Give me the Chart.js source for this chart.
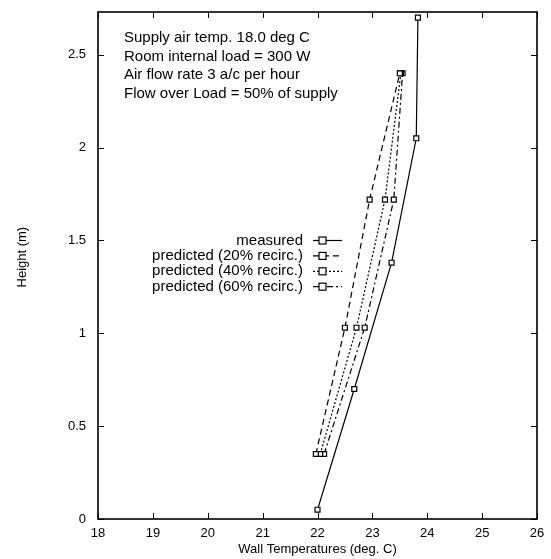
<!DOCTYPE html>
<html>
<head>
<meta charset="utf-8">
<script src="https://cdn.jsdelivr.net/npm/chart.js@4.4.0/dist/chart.umd.min.js"></script>
<style>
  html, body { margin: 0; padding: 0; background: #fff; }
  #wrap { width: 551px; height: 559px; }
</style>
</head>
<body>
<div id="wrap"><canvas id="chart" width="551" height="559"></canvas></div>
<script>
// values: [wall temperature, height]
const measured = [[22.0, 0.05], [22.67, 0.70], [23.35, 1.38], [23.8, 2.05], [23.83, 2.70]]
const recirc20 = [[21.97, 0.35], [22.5, 1.03], [22.95, 1.72], [23.5, 2.40]]
const recirc40 = [[22.05, 0.35], [22.71, 1.03], [23.23, 1.72], [23.52, 2.40]]
const recirc60 = [[22.12, 0.35], [22.86, 1.03], [23.39, 1.72], [23.55, 2.40]]

const seriesNames = ["measured", "predicted (20% recirc.)", "predicted (40% recirc.)", "predicted (60% recirc.)"]
const seriesDash = [[], [6, 4], [2, 2], [6, 3, 2, 3]]
const noteLines = [
    "Supply air temp. 18.0 deg C",
    "Room internal load = 300 W",
    "Air flow rate 3 a/c per hour",
    "Flow over Load = 50% of supply",
]
const xTicks = [18, 19, 20, 21, 22, 23, 24, 25, 26]
const yTicks = [0, 0.5, 1, 1.5, 2, 2.5]
const yTitle = "Height (m)"

const FONT = "'Liberation Sans', Arial, sans-serif"

function toPoints(arr){
    return arr.map(([x, y]) => ({x, y}))
}

const allSeries = [measured, recirc20, recirc40, recirc60]
const datasets = allSeries.map((s, i) => ({
    label: seriesNames[i],
    data: toPoints(s),
    borderColor: "#000",
    borderWidth: 1.2,
    borderDash: seriesDash[i],
    pointStyle: "rect",
    pointRadius: 3.5,
    pointBorderWidth: 1.2,
    pointBorderColor: "#000",
    pointBackgroundColor: "#fff",
    showLine: true,
    fill: false,
    tension: 0,
}))

// frame, inward ticks on all 4 sides, y title, the note and the key
const framePlugin = {
    id: "frame",
    afterDraw(chart){
        const ctx = chart.ctx
        const {left, right, top, bottom} = chart.chartArea
        const xs = chart.scales.x, ys = chart.scales.y
        const tl = 6
        ctx.save()
        ctx.strokeStyle = "#000"
        ctx.lineWidth = 1.6
        ctx.setLineDash([])
        ctx.strokeRect(left, top, right - left, bottom - top)
        ctx.lineWidth = 1
        ctx.beginPath()
        xTicks.forEach(v => {
            const px = Math.round(xs.getPixelForValue(v)) + 0.5
            ctx.moveTo(px, bottom); ctx.lineTo(px, bottom - tl)
            ctx.moveTo(px, top); ctx.lineTo(px, top + tl)
        })
        yTicks.forEach(v => {
            const py = Math.round(ys.getPixelForValue(v)) + 0.5
            ctx.moveTo(left, py); ctx.lineTo(left + tl, py)
            ctx.moveTo(right, py); ctx.lineTo(right - tl, py)
        })
        ctx.stroke()

        ctx.fillStyle = "#000"
        ctx.textBaseline = "middle"

        // y axis title sits a bit above the middle in the original
        ctx.save()
        ctx.font = "13px " + FONT
        ctx.textAlign = "center"
        ctx.translate(22, ys.getPixelForValue(1.41))
        ctx.rotate(-Math.PI / 2)
        ctx.fillText(yTitle, 0, 0)
        ctx.restore()

        // note in the upper left
        ctx.font = "15px " + FONT
        ctx.textAlign = "left"
        noteLines.forEach((t, i) => ctx.fillText(t, 124, 38 + i * 18.5))

        // key: text right-aligned, then line sample with marker
        ctx.textAlign = "right"
        ctx.lineWidth = 1.2
        seriesNames.forEach((t, i) => {
            const y = 240.5 + i * 15.4
            ctx.fillText(t, 303, y)
            ctx.beginPath()
            ctx.setLineDash(seriesDash[i])
            ctx.moveTo(313, y); ctx.lineTo(342, y)
            ctx.stroke()
            ctx.setLineDash([])
            ctx.fillStyle = "#fff"
            ctx.fillRect(319, y - 3.5, 7, 7)
            ctx.strokeRect(319, y - 3.5, 7, 7)
            ctx.fillStyle = "#000"
        })
        ctx.restore()
    }
}

new Chart(document.getElementById("chart"), {
    type: "scatter",
    data: { datasets },
    options: {
        responsive: false,
        animation: false,
        layout: { padding: { top: 12, right: 14, left: 0, bottom: 0 } },
        plugins: {
            legend: { display: false },
            tooltip: { enabled: false },
        },
        scales: {
            x: {
                type: "linear",
                min: 18, max: 26,
                grid: { display: false, drawTicks: false },
                border: { display: false },
                ticks: { stepSize: 1, color: "#000", font: { family: FONT, size: 13 }, padding: 7 },
                title: { display: true, text: "Wall Temperatures (deg. C)", color: "#000", font: { family: FONT, size: 13 }, padding: { top: -4, bottom: 2 } },
                afterFit(scale){
                    scale.height = 40
                    scale.paddingLeft = 0
                    scale.paddingRight = 0
                },
            },
            y: {
                type: "linear",
                min: 0, max: 2.73,
                grid: { display: false, drawTicks: false },
                border: { display: false },
                ticks: {
                    stepSize: 0.5, includeBounds: false, color: "#000",
                    font: { family: FONT, size: 13 }, padding: 12,
                    callback: v => String(v),
                },
                title: { display: false },
                afterFit(scale){
                    scale.width = 98
                    scale.paddingTop = 0
                    scale.paddingBottom = 0
                },
            },
        },
    },
    plugins: [framePlugin],
})
</script>
</body>
</html>
